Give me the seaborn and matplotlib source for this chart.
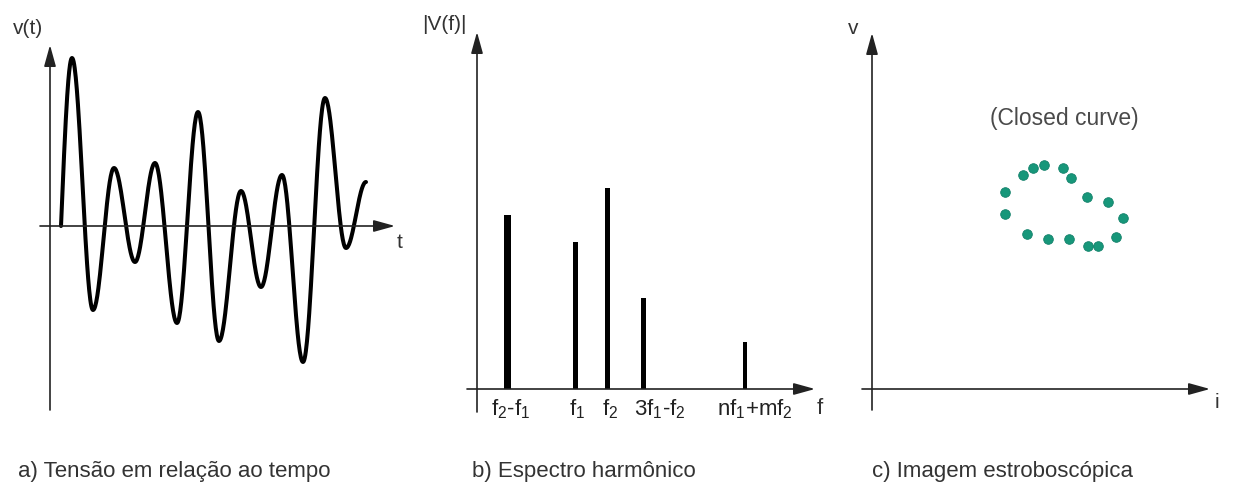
import numpy as np
import pandas as pd
import matplotlib.pyplot as plt
import seaborn as sns

# a) waveform: times and values of the turning points
wave_t = [0.11, 0.22, 0.43, 0.64, 0.85, 1.05, 1.27, 1.48, 1.69, 1.91, 2.11, 2.32, 2.53, 2.75, 2.96, 3.16]
wave_v = [0.00, 1.68, -0.84, 0.58, -0.36, 0.63, -0.97, 1.14, -1.15, 0.35, -0.61, 0.51, -1.36, 1.28, -0.22, 0.44]

# b) harmonic spectrum
spec_freq = [0.30, 0.98, 1.30, 1.66, 2.68]
spec_mag = [1.74, 1.47, 2.01, 0.91, 0.47]
spec_labels = ['f$_2$-f$_1$', 'f$_1$', 'f$_2$', '3f$_1$-f$_2$', 'nf$_1$+mf$_2$']

# c) stroboscopic image (closed curve of dots)
strobe_i = [1.33, 1.33, 1.51, 1.61, 1.72, 1.91, 1.99, 2.15, 2.36, 2.51, 2.44, 2.26, 2.16, 1.97, 1.76, 1.55]
strobe_v = [1.97, 1.75, 2.14, 2.21, 2.24, 2.21, 2.11, 1.92, 1.87, 1.71, 1.52, 1.43, 1.43, 1.50, 1.50, 1.55]

captions = ['a) Tensão em relação ao tempo', 'b) Espectro harmônico', 'c) Imagem estroboscópica']

W, H = 1235, 499
AXIS_COLOR = '#222222'
TEXT_COLOR = '#333333'
NARROW = ['Liberation Sans Narrow', 'Liberation Sans', 'DejaVu Sans']
REGULAR = ['Liberation Sans', 'DejaVu Sans']

sns.set_style("white")
plt.rcParams['font.family'] = NARROW
plt.rcParams['mathtext.fontset'] = 'custom'
plt.rcParams['mathtext.rm'] = 'Liberation Sans'
plt.rcParams['mathtext.it'] = 'Liberation Sans'


def px_axes(fig, x0, y0, x1, y1):
    # axes box given in pixels (top-left origin)
    ax = fig.add_axes([x0 / W, (H - y1) / H, (x1 - x0) / W, (y1 - y0) / H])
    ax.set_axis_off()
    return ax


def draw_axes(ax, xlim, ylim):
    ax.set_xlim(*xlim)
    ax.set_ylim(*ylim)
    arrow = dict(arrowstyle='-|>,head_length=1.3,head_width=0.36', mutation_scale=10,
                 color=AXIS_COLOR, lw=1.2, shrinkA=0, shrinkB=0)
    ax.annotate('', xy=(xlim[1], 0), xytext=(xlim[0], 0), arrowprops=arrow, annotation_clip=False)
    ax.annotate('', xy=(0, ylim[1]), xytext=(0, ylim[0]), arrowprops=arrow, annotation_clip=False)


def fig_text(fig, x, y, s, **kw):
    fig.text(x / W, (H - y) / H, s, color=TEXT_COLOR, **kw)


def waveform_frame():
    # smooth half-cosine strokes between the turning points
    ts, vs = [], []
    for k in range(len(wave_t) - 1):
        s = np.linspace(0, 1, 40)
        a, b = wave_v[k], wave_v[k + 1]
        if k == 0:
            seg = b * np.sin(np.pi / 2 * s)
        else:
            seg = a + (b - a) * (1 - np.cos(np.pi * s)) / 2
        ts.extend(wave_t[k] + (wave_t[k + 1] - wave_t[k]) * s)
        vs.extend(seg)
    return pd.DataFrame({'t': ts, 'v': vs})


def plot_panels():
    fig = plt.figure(figsize=(W / 100, H / 100), dpi=100)

    # a) voltage vs time
    ax_a = px_axes(fig, 40, 45, 395, 410)
    draw_axes(ax_a, (-0.10, 3.45), (-1.84, 1.81))
    sns.lineplot(data=waveform_frame(), x='t', y='v', sort=False, estimator=None,
                 color='black', linewidth=2.9, ax=ax_a)
    ax_a.set_axis_off()
    fig_text(fig, 28, 29, 'v(t)', fontsize=15, ha='center', va='center', family=REGULAR)
    fig_text(fig, 400, 242, 't', fontsize=15, ha='center', va='center', family=REGULAR)

    # b) harmonic spectrum
    ax_b = px_axes(fig, 467, 32, 815, 412)
    sns.barplot(x=spec_freq, y=spec_mag, native_scale=True, color='black',
                width=0.16, saturation=1, ax=ax_b)
    bar_px = [7, 5, 5, 5, 4]
    for p, f, wpx in zip(ax_b.patches, spec_freq, bar_px):
        p.set_width(wpx / 100)
        p.set_x(f - wpx / 200)
        p.set_linewidth(0)
    draw_axes(ax_b, (-0.10, 3.38), (-0.23, 3.57))
    ax_b.set_axis_off()
    label_shift = [4, 2, 3, 17, 10]
    for f, lab, dx in zip(spec_freq, spec_labels, label_shift):
        ax_b.annotate(lab, xy=(f, 0), xytext=(dx * 0.72, -6), textcoords='offset points',
                      ha='center', va='top', fontsize=16, color='#222222', annotation_clip=False)
    fig_text(fig, 444, 25, '|V(f)|', fontsize=15, ha='center', va='center')
    fig_text(fig, 820, 408, 'f', fontsize=16, ha='center', va='center')

    # c) stroboscopic image
    ax_c = px_axes(fig, 862, 33, 1210, 410)
    sns.scatterplot(x=strobe_i, y=strobe_v, color='#17977a', s=48, edgecolor='#12806a',
                    linewidth=0.6, ax=ax_c)
    draw_axes(ax_c, (-0.10, 3.38), (-0.21, 3.56))
    ax_c.set_axis_off()
    ax_c.text(1.92, 2.70, '(Closed curve)', ha='center', va='center', fontsize=16.5,
              color='#4a4a4a', family=REGULAR)
    fig_text(fig, 853, 28, 'v', fontsize=15, ha='center', va='center', family=REGULAR)
    fig_text(fig, 1217, 403, 'i', fontsize=15, ha='center', va='center', family=REGULAR)

    # captions
    for x, cap in zip([18, 472, 872], captions):
        fig_text(fig, x, 471, cap, fontsize=16, ha='left', va='center')

    plt.savefig('out.png', dpi=100)


if __name__ == "__main__":
    plot_panels()
